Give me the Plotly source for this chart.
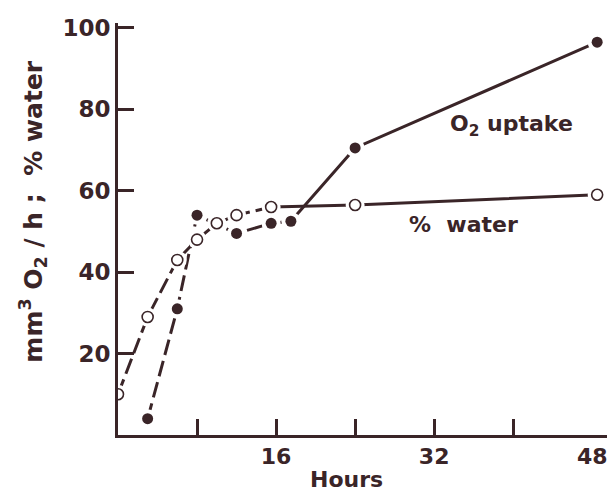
import plotly.graph_objects as go

# values
hours_water = [0, 3, 6, 8, 10, 12, 15.5, 24, 48.5]
pct_water = [10, 29, 43, 48, 52, 54, 56, 56.5, 59]

hours_o2 = [3, 6, 8, 12, 15.5, 17.5, 24, 48.5]
o2_uptake = [4, 31, 54, 49.5, 52, 52.5, 70.5, 96.5]

x_ticks = [8, 16, 24, 32, 40]
x_labels = [16, 32, 48]
y_ticks = [20, 40, 60, 80, 100]

INK = "#3a2528"
FONT = dict(family="DejaVu Sans", color=INK, weight="bold")

fig = go.Figure()

# --- lines: dashed early part, solid after ~16 h ---
fig.add_trace(go.Scatter(x=hours_water[:7], y=pct_water[:7], mode="lines",
                         line=dict(color=INK, width=3, dash="16px,6px")))
fig.add_trace(go.Scatter(x=hours_water[6:], y=pct_water[6:], mode="lines",
                         line=dict(color=INK, width=3)))
fig.add_trace(go.Scatter(x=hours_o2[:6], y=o2_uptake[:6], mode="lines",
                         line=dict(color=INK, width=3, dash="16px,6px")))
fig.add_trace(go.Scatter(x=hours_o2[5:], y=o2_uptake[5:], mode="lines",
                         line=dict(color=INK, width=3)))

# --- markers on the overlaid axis so they sit above the lines ---
# white halo gives the little gap between line and point
fig.add_trace(go.Scatter(x=hours_water + hours_o2, y=pct_water + o2_uptake, mode="markers",
                         marker=dict(color="white", size=19, line=dict(width=0)), xaxis="x2"))
fig.add_trace(go.Scatter(x=hours_water, y=pct_water, mode="markers", xaxis="x2",
                         marker=dict(color="white", size=11, line=dict(color=INK, width=1.6))))
fig.add_trace(go.Scatter(x=hours_o2, y=o2_uptake, mode="markers", xaxis="x2",
                         marker=dict(color=INK, size=11, line=dict(width=0))))

# --- labels ---
def label(text, x, y, size=22, angle=0):
    fig.add_annotation(x=x, y=y, xref="paper", yref="paper", showarrow=False,
                       xanchor="center", yanchor="middle", textangle=angle,
                       text=text, font=dict(size=size, **FONT))

label("O<sub>2</sub> uptake", 0.80, 0.752)
label("%  water", 0.703, 0.51)
label("Hours", 0.465, -0.107)
label("mm<sup>3</sup> O<sub>2</sub> / h ;  % water", -0.172, 0.543, size=25, angle=-90)

# page body has an 8px margin, so the margins are shifted to compensate
fig.update_layout(
    width=615, height=494,
    margin=dict(l=110, r=13, t=7, b=67),
    paper_bgcolor="white", plot_bgcolor="white",
    showlegend=False,
    xaxis=dict(range=[0, 49.8], showline=True, linewidth=3, linecolor=INK,
               showgrid=False, zeroline=False, tickvals=x_ticks, showticklabels=False,
               ticks="inside", ticklen=16, tickwidth=3, tickcolor=INK),
    xaxis2=dict(range=[0, 49.8], overlaying="x", matches="x", side="bottom",
                showline=False, showgrid=False, zeroline=False, ticks="",
                tickvals=x_labels, tickfont=dict(size=22, **FONT), ticklabelstandoff=6,
                ticklabeloverflow="allow"),
    yaxis=dict(range=[0, 101.2], showline=True, linewidth=3, linecolor=INK,
               showgrid=False, zeroline=False, tickvals=y_ticks,
               ticks="inside", ticklen=16, tickwidth=3, tickcolor=INK,
               tickfont=dict(size=23, **FONT), ticklabeloverflow="allow"),
)

fig.write_html("out.html")
